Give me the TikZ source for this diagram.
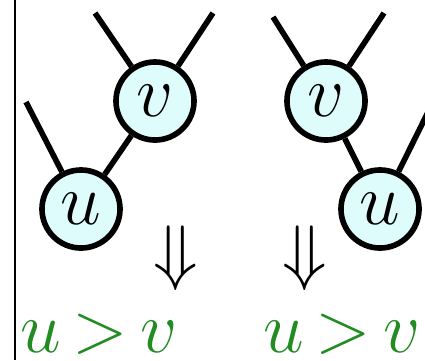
\documentclass[tikz,border=0pt]{standalone}
\usepackage{tikz}
\definecolor{vfill}{RGB}{222,252,252}
\definecolor{resgreen}{RGB}{34,139,34}

\begin{document}
\begin{tikzpicture}[x=0.01cm,y=-0.01cm,
  vert/.style={circle,draw,line width=1.6pt,fill=vfill,minimum size=0.78cm,inner sep=0pt,font=\fontsize{20}{24}\selectfont},
  edge/.style={line width=1.6pt},
  impl/.style={font=\fontsize{22}{26}\selectfont},
  res/.style={text=resgreen,font=\fontsize{20.5}{24}\selectfont,inner sep=0pt,anchor=base}]
\useasboundingbox (0,0) rectangle (425,360);
\clip (0,0) rectangle (425,360);
\draw[line width=0.7pt] (15,0)--(15,360);
% left tree: u is the left child of v
\node[vert] (v1) at (155,101) {$v$};
\node[vert] (u1) at (81,209) {$u$};
\coordinate (a1) at (95,13); \coordinate (b1) at (213,13); \coordinate (c1) at (26,102);
\draw[edge] (v1)--(a1); \draw[edge] (v1)--(b1);
\draw[edge] (v1)--(u1); \draw[edge] (u1)--(c1);
% right tree: u is the right child of v
\node[vert] (v2) at (326,101) {$v$};
\node[vert] (u2) at (380,209) {$u$};
\coordinate (a2) at (273,17); \coordinate (b2) at (384,13); \coordinate (c2) at (437,94);
\draw[edge] (v2)--(a2); \draw[edge] (v2)--(b2);
\draw[edge] (v2)--(u2); \draw[edge] (u2)--(c2);
% conclusions
\node[impl] (d1) at (176,258) {$\Downarrow$};
\node[impl] (d2) at (305,258) {$\Downarrow$};
\node[res] (r1) at (99,352) {$u\,{>}\,v$};
\node[res] (r2) at (342,352) {$u\,{>}\,v$};
\end{tikzpicture}
\end{document}
